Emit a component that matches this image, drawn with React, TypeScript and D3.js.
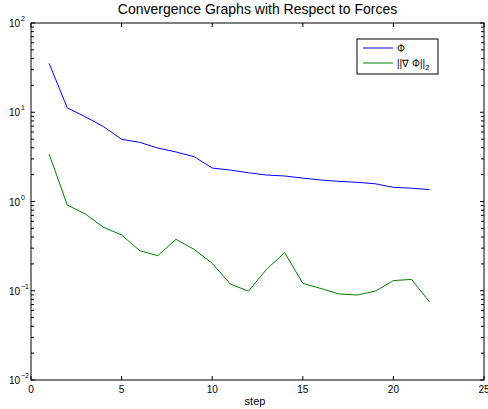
import React from 'react'
import * as d3 from 'd3'

// values (log-scale y)
const steps = [1, 2, 3, 4, 5, 6, 7, 8, 9, 10, 11, 12, 13, 14, 15, 16, 17, 18, 19, 20, 21, 22]
const phi = [35.3, 11.2, 8.9, 6.9, 4.98, 4.6, 3.97, 3.59, 3.18, 2.37, 2.25, 2.1, 1.98, 1.93, 1.83, 1.74, 1.68, 1.64, 1.58, 1.44, 1.41, 1.36]
const gradNorm = [3.41, 0.914, 0.724, 0.514, 0.422, 0.281, 0.247, 0.377, 0.291, 0.203, 0.119, 0.099, 0.174, 0.267, 0.121, 0.106, 0.092, 0.0896, 0.099, 0.13, 0.134, 0.0748]
const xTicks = [0, 5, 10, 15, 20, 25]
const yDecades = [-2, -1, 0, 1, 2]

const W = 488
const H = 409
const left = 31
const right = 484
const top = 23
const bottom = 380
const font = 'Liberation Sans, Arial, Helvetica, sans-serif'

export default function App() {
    const x = d3.scaleLinear().domain([0, 25]).range([left, right])
    const y = d3.scaleLog().domain([0.01, 100]).range([bottom, top])

    const line = d3.line<number>()
        .x((d, i) => x(steps[i]))
        .y(d => y(d))

    // minor ticks 2..9 in every decade
    const minor: number[] = []
    for (let e = -2; e < 2; e++) {
        for (let m = 2; m <= 9; m++) minor.push(m * Math.pow(10, e))
    }

    return (
        <svg width={W} height={H} style={{ position: 'absolute', left: 0, top: 0, background: '#fff' }}>
            <rect x={0} y={0} width={W} height={H} fill="#fff" />
            <text x={(left + right) / 2} y={14} textAnchor="middle" fontFamily={font} fontSize={14}>
                Convergence Graphs with Respect to Forces
            </text>

            <path d={line(phi) || ''} fill="none" stroke="#0000ff" strokeWidth={1} />
            <path d={line(gradNorm) || ''} fill="none" stroke="#008000" strokeWidth={1} />

            <rect x={left} y={top} width={right - left} height={bottom - top} fill="none" stroke="#000" strokeWidth={1} />

            {xTicks.map(t => (
                <g key={'x' + t}>
                    <line x1={x(t)} x2={x(t)} y1={bottom} y2={bottom - 4} stroke="#000" />
                    <line x1={x(t)} x2={x(t)} y1={top} y2={top + 4} stroke="#000" />
                    <text x={x(t)} y={bottom + 13} textAnchor="middle" fontFamily={font} fontSize={10}>{t}</text>
                </g>
            ))}
            <text x={255} y={405} textAnchor="middle" fontFamily={font} fontSize={11}>step</text>

            {yDecades.map(e => (
                <g key={'y' + e}>
                    <line x1={left} x2={left + 4} y1={y(Math.pow(10, e))} y2={y(Math.pow(10, e))} stroke="#000" />
                    <line x1={right} x2={right - 4} y1={y(Math.pow(10, e))} y2={y(Math.pow(10, e))} stroke="#000" />
                    <text x={left - 11} y={y(Math.pow(10, e)) + 4} textAnchor="end" fontFamily={font} fontSize={10}>10</text>
                    <text x={left - 10} y={y(Math.pow(10, e)) - 2} fontFamily={font} fontSize={7}>{e < 0 ? '\u2212' + (-e) : e}</text>
                </g>
            ))}
            {minor.map((v, i) => (
                <g key={'m' + i}>
                    <line x1={left} x2={left + 3} y1={y(v)} y2={y(v)} stroke="#000" />
                    <line x1={right} x2={right - 3} y1={y(v)} y2={y(v)} stroke="#000" />
                </g>
            ))}

            <g>
                <rect x={357} y={39} width={81} height={35} fill="#fff" stroke="#000" />
                <line x1={363} x2={393} y1={48} y2={48} stroke="#0000ff" />
                <text x={397} y={51.5} fontFamily={font} fontSize={10}>Φ</text>
                <line x1={363} x2={393} y1={63} y2={63} stroke="#008000" />
                <text x={397} y={66.5} fontFamily={font} fontSize={10}>||∇ Φ||<tspan fontSize={8} dy={3}>2</tspan></text>
            </g>
        </svg>
    )
}
